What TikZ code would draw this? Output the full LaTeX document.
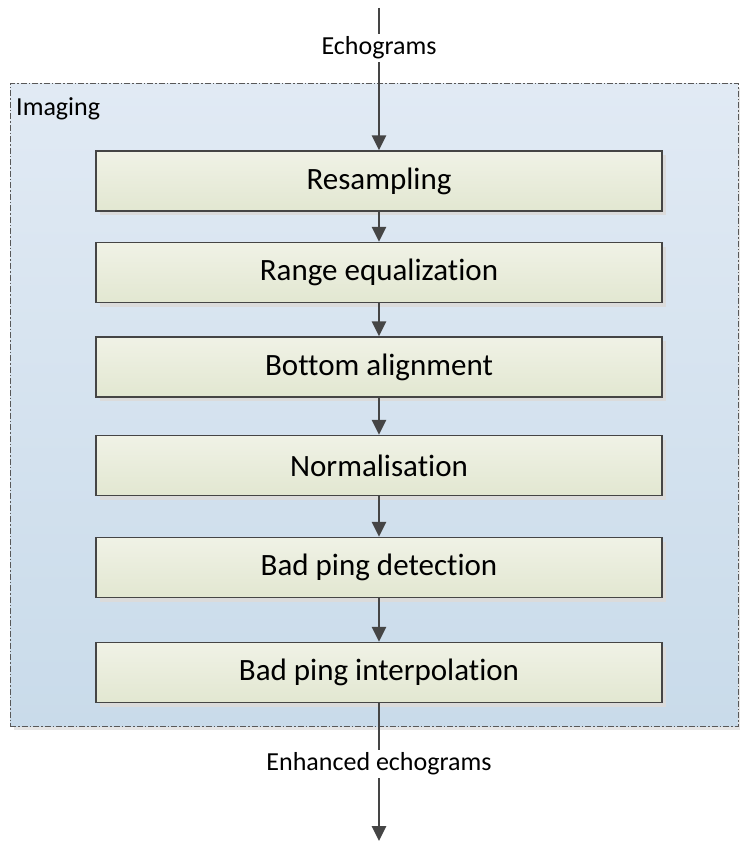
\documentclass[tikz,border=0pt]{standalone}
\usepackage{fontspec}
\setmainfont[Ligatures=NoCommon]{Carlito}
\usepackage{tikz}
\usetikzlibrary{arrows.meta, shadows}

\definecolor{boxtop}{HTML}{F0F2E6}
\definecolor{boxbot}{HTML}{E2E7D1}
\definecolor{areatop}{HTML}{E1EAF4}
\definecolor{areabot}{HTML}{C9DBEA}
\definecolor{edge}{HTML}{454545}

\begin{document}
\begin{tikzpicture}[x=1pt, y=-1pt,
        area/.style={draw=edge!90, line width=1pt,
                     dash pattern=on 6pt off 2pt on 1.5pt off 2pt,
                     top color=areatop, bottom color=areabot,
                     minimum width=728pt, minimum height=642pt,
                     drop shadow={shadow xshift=4pt, shadow yshift=-4pt,
                                  fill=black!10, opacity=1}},
        stage/.style={draw=edge, line width=1.4pt,
                      top color=boxtop, bottom color=boxbot,
                      minimum width=566pt, minimum height=60pt,
                      font=\fontsize{31}{36}\selectfont,
                      drop shadow={shadow xshift=4pt, shadow yshift=-4pt,
                                   fill=black!14, opacity=1}},
        tag/.style={font=\fontsize{26}{30}\selectfont, fill=white, inner sep=3pt},
        line/.style={line width=2.6pt, draw=edge},
        flow/.style={line, -{Triangle[width=14pt, length=15pt]}}]
      \useasboundingbox (0,0) rectangle (739,842);
      % the Imaging stage
      \node[area] (imaging) at (374,405) {};
      \node[anchor=west, font=\fontsize{26}{30}\selectfont, inner sep=0pt]
            (imglabel) at (16,109) {Imaging};
      \coordinate (in) at (379,8);
      \node[tag] (echo) at (379,48) {Echograms};
      \node[stage] (resamp) at (379,181) {Resampling};
      \node[stage] (rangeq) at (379,272.5) {Range equalization};
      \node[stage] (botalign) at (379,367) {Bottom alignment};
      \node[stage] (norm) at (379,465.5) {Normalisation};
      \node[stage] (baddet) at (379,567.5) {Bad ping detection};
      \node[stage] (badinterp) at (379,672.5) {Bad ping interpolation};
      \node[tag] (enh) at (379,764) {Enhanced echograms};
      \coordinate (out) at (379,841);
      \draw[line] (in) -- (echo);
      \draw[flow] (echo) -- (resamp);
      \foreach \a/\b in {resamp/rangeq, rangeq/botalign, botalign/norm,
                         norm/baddet, baddet/badinterp}
        \draw[flow] (\a) -- (\b);
      \draw[line] (badinterp) -- (enh);
      \draw[flow] (enh) -- (out);
    \end{tikzpicture}
\end{document}
